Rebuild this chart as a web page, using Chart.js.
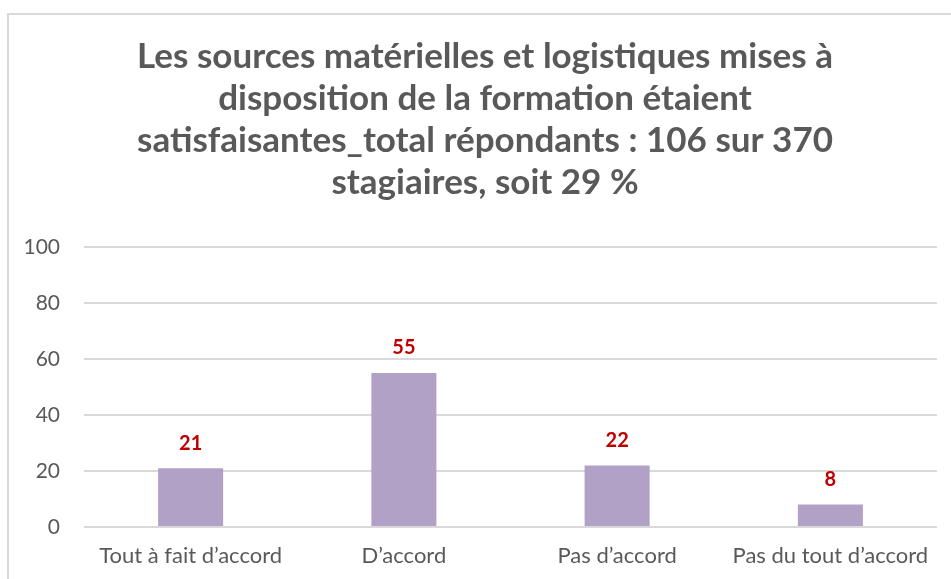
<!DOCTYPE html>
<html>
<head>
<meta charset="utf-8">
<script src="https://cdn.jsdelivr.net/npm/chart.js@4.4.1/dist/chart.umd.min.js"></script>
<style>
  html, body { margin: 0; padding: 0; background: #fff; overflow: hidden; }
  #frame { position: absolute; left: 7px; top: 13px; width: 1000px; height: 1000px; border: 2px solid #d9d9d9; box-sizing: border-box; }
  #myChart { position: absolute; left: 0; top: 0; }
</style>
</head>
<body>
<div id="frame"></div>
<canvas id="myChart" width="951" height="579"></canvas>
<script>
const categories = ['Tout à fait d\u2019accord', 'D\u2019accord', 'Pas d\u2019accord', 'Pas du tout d\u2019accord'];
const values = [21, 55, 22, 8];
const titleLines = [
    'Les sources matérielles et logistiques mises à',
    'disposition de la formation étaient',
    'satisfaisantes_total répondants : 106 sur 370',
    'stagiaires, soit 29 %'
];

const FONT = 'Lato, "Open Sans", sans-serif';

// étiquettes de valeur au-dessus des barres
const valueLabels = {
    id: 'valueLabels',
    afterLayout(chart) {
        // le cadre d'origine est plus large que la fenêtre : titre décalé
        if (chart.titleBlock) chart.titleBlock.left += 33;
    },
    afterDatasetsDraw(chart) {
        const ctx = chart.ctx;
        const meta = chart.getDatasetMeta(0);
        ctx.save();
        ctx.font = 'bold 20px ' + FONT;
        ctx.fillStyle = '#c00000';
        ctx.textAlign = 'center';
        ctx.textBaseline = 'middle';
        meta.data.forEach((bar, i) => {
            ctx.fillText(String(values[i]), bar.x, bar.y - 25);
        });
        ctx.restore();
    }
};

const ctx = document.getElementById('myChart').getContext('2d');

new Chart(ctx, {
    type: 'bar',
    data: {
        labels: categories,
        datasets: [{
            data: values,
            backgroundColor: '#b2a1c7',
            borderWidth: 0,
            barPercentage: 0.305,
            categoryPercentage: 1
        }]
    },
    options: {
        responsive: false,
        animation: false,
        layout: { padding: { left: 0, right: 14, top: 0, bottom: 0 } },
        plugins: {
            legend: { display: false },
            tooltip: { enabled: false },
            title: {
                display: true,
                text: titleLines,
                color: '#595959',
                font: { family: FONT, size: 35, weight: 'bold', lineHeight: '42px' },
                padding: { top: 36, bottom: 43 }
            }
        },
        scales: {
            y: {
                min: 0,
                max: 100,
                ticks: {
                    stepSize: 20,
                    color: '#595959',
                    font: { family: FONT, size: 21 },
                    padding: 24
                },
                grid: { color: '#d9d9d9', lineWidth: 2, drawTicks: false },
                border: { display: false },
                afterFit: s => { s.width = 84; }
            },
            x: {
                ticks: {
                    color: '#595959',
                    font: { family: FONT, size: 22 },
                    padding: 16
                },
                grid: { display: false, drawTicks: false },
                border: { display: false },
                afterFit: s => { s.height = 52; }
            }
        }
    },
    plugins: [valueLabels]
});
</script>
</body>
</html>
